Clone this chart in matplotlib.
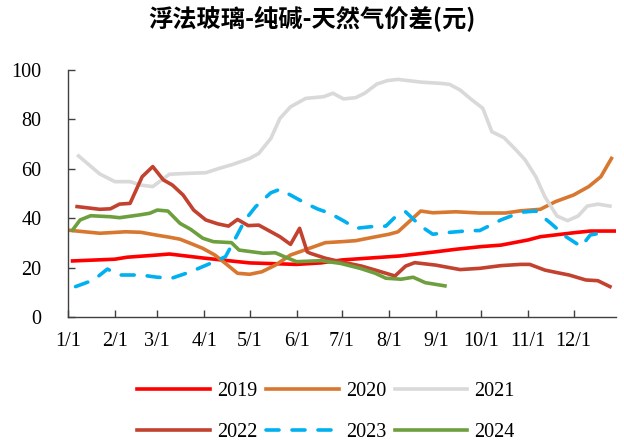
import matplotlib
matplotlib.use("Agg")
import matplotlib.pyplot as plt

# 浮法玻璃-纯碱-天然气价差, one line per year, x = day of year
month_days = [0, 31, 59, 90, 120, 151, 181, 212, 243, 273, 304, 334]
month_labels = ["1/1", "2/1", "3/1", "4/1", "5/1", "6/1",
                "7/1", "8/1", "9/1", "10/1", "11/1", "12/1"]

d2019 = [3, 31, 39, 59, 67, 89, 120, 151, 167, 181, 212, 219, 243, 256,
         273, 286, 304, 312, 334, 345, 361]
v2019 = [22.7, 23.4, 24.2, 25.1, 25.5, 23.9, 21.9, 21.3, 21.9, 23.1, 24.4,
         24.7, 26.4, 27.4, 28.5, 29.1, 31.2, 32.5, 34.1, 34.8, 34.8]

d2020 = [1, 21, 38, 48, 59, 67, 74, 81, 89, 97, 104, 112, 120, 128, 137,
         147, 153, 170, 181, 190, 200, 212, 218, 233, 241, 256, 272, 289,
         299, 312, 322, 334, 344, 352, 359]
v2020 = [35.1, 33.9, 34.5, 34.3, 33.1, 32.3, 31.5, 29.8, 27.8, 25.1, 21.7,
         17.7, 17.3, 18.3, 21.0, 25.1, 26.4, 30.1, 30.5, 30.9, 32.1, 33.5,
         34.5, 42.9, 42.2, 42.6, 42.1, 42.1, 43.0, 43.6, 46.7, 49.4, 52.8,
         56.8, 64.2]

d2021 = [7, 21, 31, 41, 48, 56, 67, 81, 91, 100, 109, 120, 126, 134, 140,
         147, 157, 169, 175, 182, 190, 196, 204, 211, 218, 233, 246, 252,
         259, 266, 274, 280, 288, 296, 302, 309, 315, 323, 330, 337, 343,
         350, 358]
v2021 = [65.2, 57.9, 54.8, 54.8, 53.4, 52.8, 57.8, 58.2, 58.4, 60.2, 61.8,
         64.2, 66.2, 72.3, 80.4, 85.1, 88.5, 89.2, 90.6, 88.3, 88.8, 90.6,
         94.3, 95.7, 96.2, 95.1, 94.6, 94.2, 91.9, 88.3, 84.5, 75.0, 72.6,
         67.6, 63.6, 56.8, 48.7, 40.9, 39.0, 40.9, 44.9, 45.7, 44.9]

d2022 = [6, 21, 28, 34, 41, 49, 56, 63, 69, 76, 83, 91, 99, 106, 112, 119,
         126, 132, 140, 147, 153, 158, 160, 170, 180, 194, 203, 216, 223,
         229, 243, 259, 272, 286, 299, 305, 315, 322, 331, 342, 350, 358]
v2022 = [44.7, 43.6, 43.8, 45.7, 46.0, 56.8, 60.9, 55.5, 53.4, 49.4, 43.3,
         39.3, 37.7, 36.8, 39.5, 37.0, 37.2, 35.2, 32.5, 29.4, 35.9, 26.4,
         25.8, 23.8, 22.4, 20.6, 19.0, 16.6, 20.6, 22.0, 21.0, 19.2, 19.7,
         20.8, 21.3, 21.3, 19.0, 18.1, 17.0, 15.0, 14.7, 12.3]

d2023 = [5, 17, 26, 34, 48, 59, 69, 81, 94, 104, 110, 117, 124, 134, 140,
         149, 157, 165, 173, 183, 190, 201, 210, 216, 223, 233, 241, 249,
         266, 272, 286, 299, 309, 319, 329, 339, 345, 353]
v2023 = [12.3, 15.0, 19.4, 17.0, 17.0, 16.1, 15.8, 18.3, 21.7, 24.4, 31.2,
         39.3, 44.7, 50.3, 51.7, 48.7, 46.0, 43.7, 42.0, 38.6, 35.9, 36.6,
         36.8, 40.4, 42.6, 36.8, 33.5, 34.1, 35.0, 35.0, 39.3, 42.4, 42.9,
         37.9, 32.5, 28.5, 33.2, 34.1]

d2024 = [3, 8, 15, 28, 34, 47, 54, 59, 66, 74, 81, 89, 96, 108, 113, 124,
         129, 137, 143, 151, 167, 180, 193, 203, 210, 220, 228, 236, 249]
v2024 = [35.2, 39.3, 41.0, 40.6, 40.2, 41.3, 42.0, 43.3, 42.9, 37.9, 35.5,
         31.9, 30.5, 30.1, 27.1, 26.2, 25.8, 26.0, 24.4, 22.4, 22.8, 21.7,
         19.7, 17.7, 15.7, 15.3, 16.1, 13.9, 12.6]

plt.rcParams['font.family'] = ['Liberation Serif', 'Noto Sans CJK SC']

fig = plt.figure(figsize=(6.24, 4.41), dpi=100)
ax = fig.add_axes([68 / 624, 1 - 317 / 441, 548 / 624, 247 / 441])

lw = 2.6
ax.plot(d2019, v2019, color='#FF0000', lw=lw, label='2019')
ax.plot(d2020, v2020, color='#D8772F', lw=lw, label='2020')
ax.plot(d2021, v2021, color='#D9D9D9', lw=lw, label='2021')
ax.plot(d2022, v2022, color='#C2412F', lw=lw, label='2022')
ax.plot(d2023, v2023, color='#00B0F0', lw=lw, label='2023',
        dashes=(3.6, 3.6), dash_capstyle='round')
ax.plot(d2024, v2024, color='#6E9F3E', lw=lw, label='2024')

ax.set_xlim(0, 362)
ax.set_ylim(0, 100)
ax.set_yticks(range(0, 101, 20))
ax.set_xticks(month_days)
ax.set_xticklabels(month_labels)

for side in ['top', 'right']:
    ax.spines[side].set_visible(False)
for side in ['left', 'bottom']:
    ax.spines[side].set_color('#404040')
    ax.spines[side].set_linewidth(1.0)

ax.tick_params(axis='both', direction='in', length=5, width=1.0,
               color='#404040', labelsize=14.5, labelcolor='black')
ax.tick_params(axis='y', pad=19)
ax.tick_params(axis='x', pad=11)

fig.text(0.5, 1 - 19 / 441, '浮法玻璃-纯碱-天然气价差(元)',
         ha='center', va='center', fontsize=17.5, fontweight='bold',
         family=['Noto Sans CJK SC', 'DejaVu Sans'])

# legend fills columns first, so interleave to get years row by row
handles, labels = ax.get_legend_handles_labels()
order = [0, 3, 1, 4, 2, 5]
fig.legend([handles[i] for i in order], [labels[i] for i in order],
           loc='center', bbox_to_anchor=(326 / 624, 1 - 412 / 441),
           ncol=3, frameon=False, fontsize=14.5, handlelength=3.6,
           handletextpad=0.35, columnspacing=0.45, labelspacing=1.1)

fig.savefig('out.png', dpi=100)
